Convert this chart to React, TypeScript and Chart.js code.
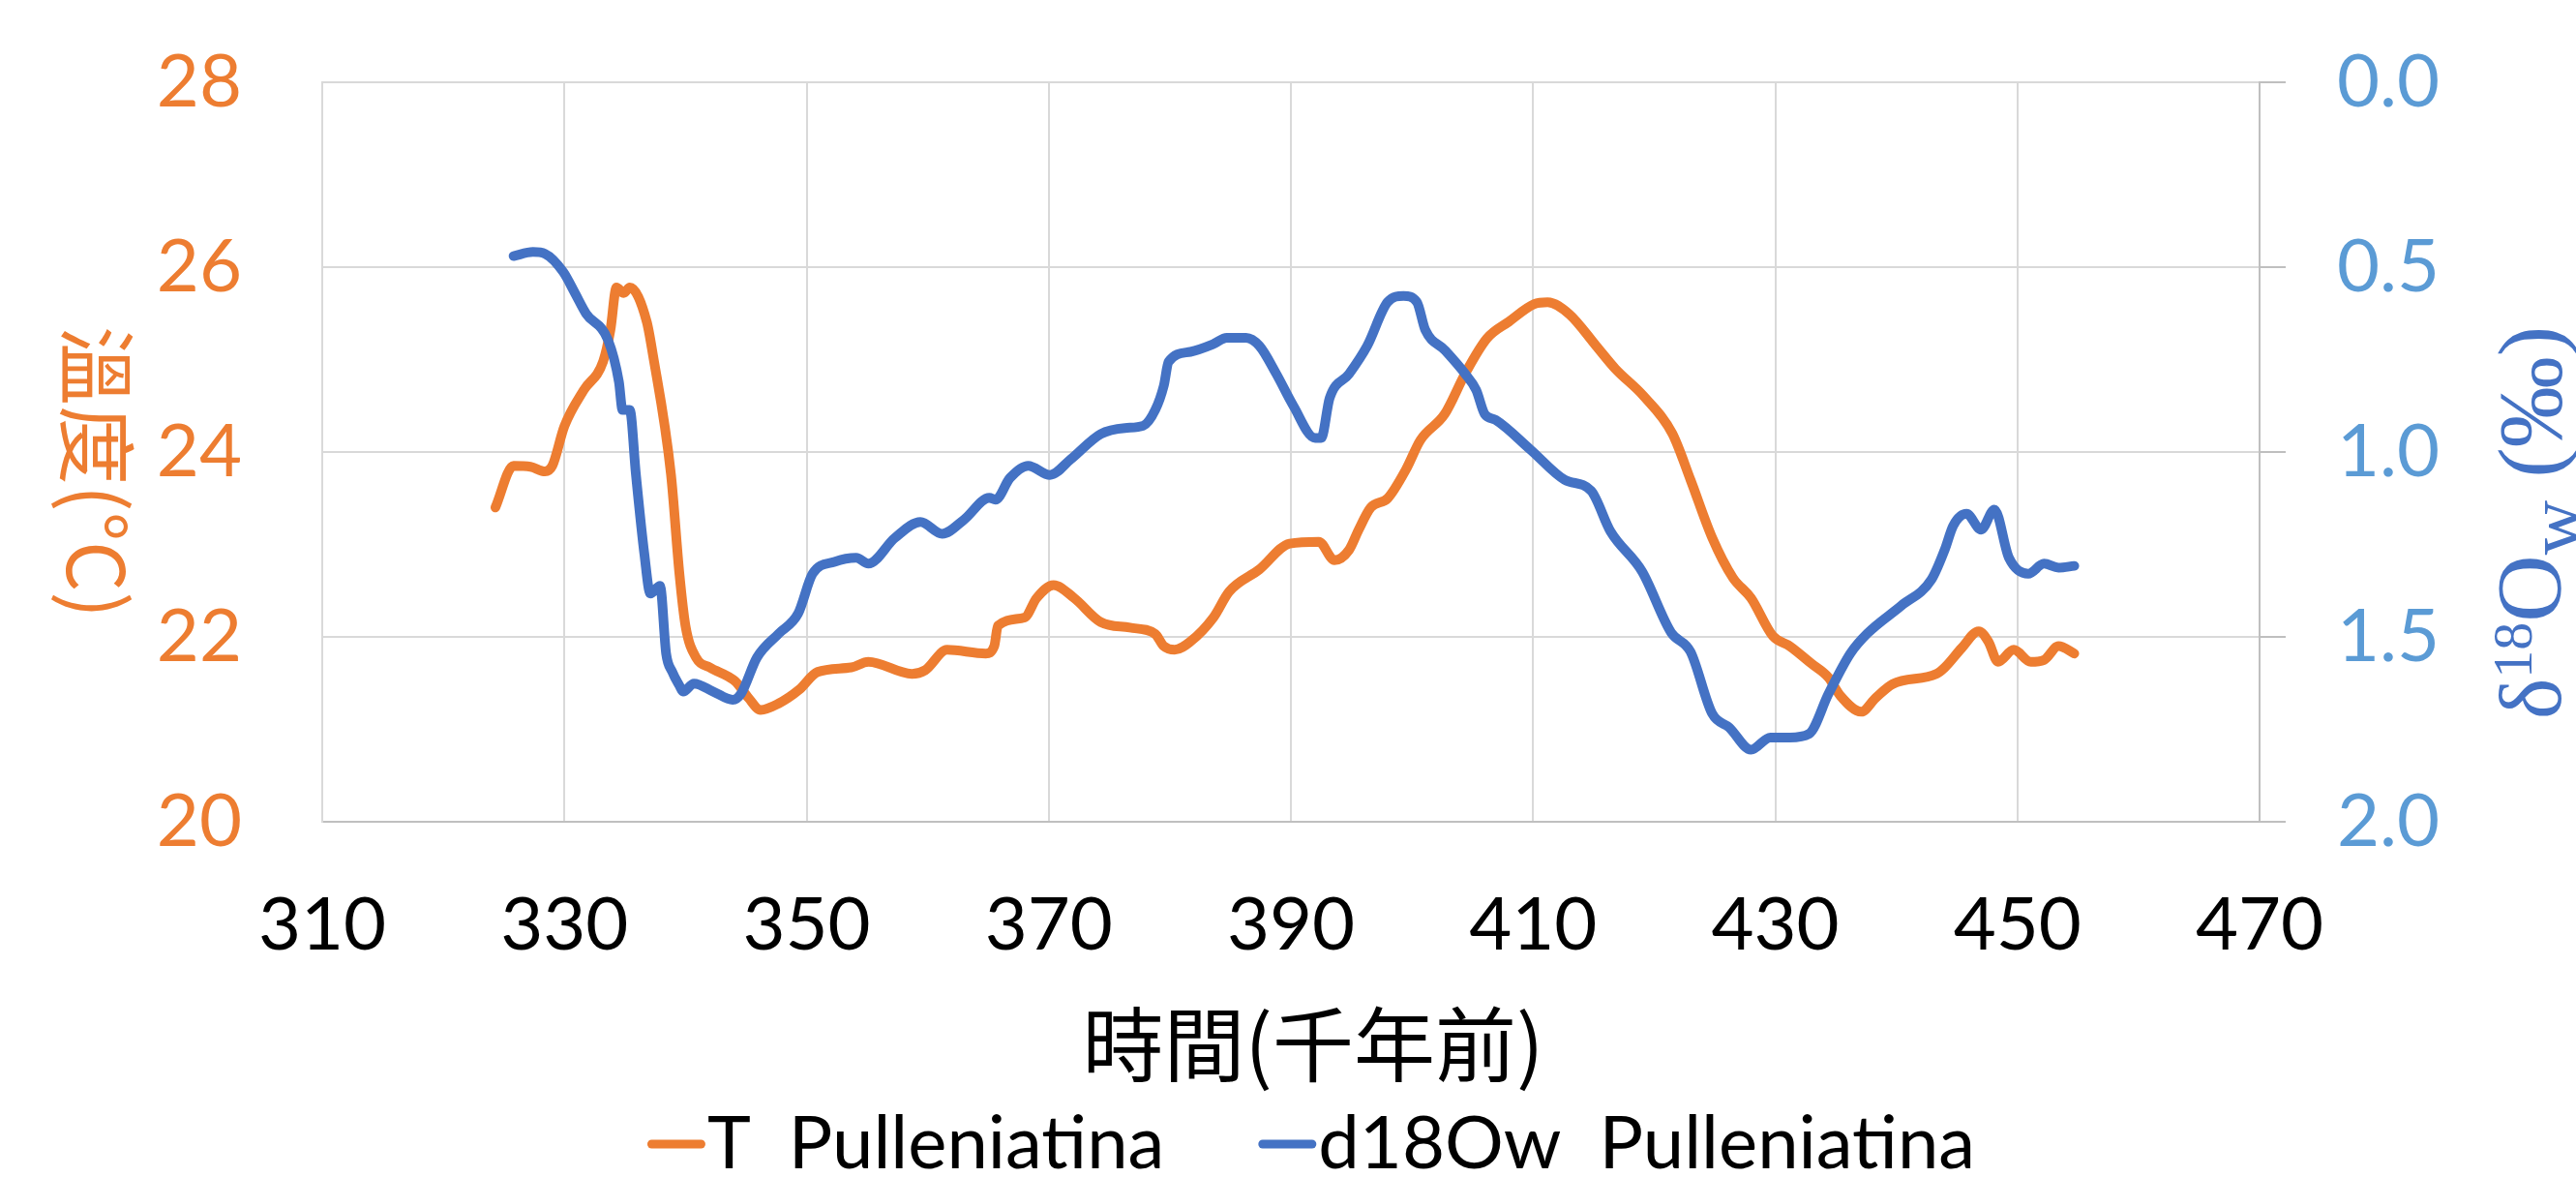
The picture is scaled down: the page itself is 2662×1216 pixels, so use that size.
import React, { useEffect, useRef } from "react";
import { Chart, registerables } from "chart.js";

Chart.register(...registerables);

// ---------------- data ----------------
const xTickValues = [310, 330, 350, 370, 390, 410, 430, 450, 470];
const tempTickValues = [20, 22, 24, 26, 28];
const d18TickValues = [0.0, 0.5, 1.0, 1.5, 2.0];

const seriesLabels = ["T  Pulleniatina", "d18Ow  Pulleniatina"];

const tTime = [
  324.3, 325.8, 327.2, 328.4, 329.0, 330.0, 331.6, 333.2, 333.8, 334.3,
  334.9, 335.4, 336.8, 337.3, 338.8, 339.5, 340.0, 340.9, 342.0, 344.1,
  345.2, 346.2, 347.7, 349.4, 350.9, 353.7, 355.1, 358.7, 359.8, 361.6,
  364.8, 365.5, 365.8, 368.0, 369.0, 370.4, 372.1, 374.3, 376.7, 378.8,
  379.5, 380.4, 381.7, 383.6, 384.9, 387.4, 389.9, 392.3, 393.6, 394.8,
  395.6, 396.6, 398.0, 399.5, 400.7, 402.7, 404.4, 406.2, 408.0, 410.1,
  411.2, 413.0, 415.2, 416.8, 419.1, 421.5, 423.0, 424.8, 426.5, 428.0,
  429.8, 431.2, 433.0, 434.4, 435.4, 437.1, 438.3, 439.7, 443.3, 444.0,
  445.4, 446.8, 447.6, 448.4, 449.7, 451.1, 452.2, 453.4, 454.7,
];
const tValue = [
  23.40, 23.85, 23.84, 23.79, 23.85, 24.28, 24.67, 24.98, 25.32, 25.78,
  25.72, 25.78, 25.41, 25.06, 23.76, 22.68, 22.12, 21.77, 21.67, 21.52,
  21.34, 21.21, 21.28, 21.43, 21.62, 21.67, 21.73, 21.60, 21.64, 21.86,
  21.82, 21.90, 22.12, 22.21, 22.42, 22.56, 22.42, 22.16, 22.10, 22.03,
  21.90, 21.86, 21.95, 22.21, 22.49, 22.73, 23.01, 23.03, 22.83, 22.94,
  23.16, 23.40, 23.50, 23.81, 24.13, 24.41, 24.85, 25.23, 25.41, 25.60,
  25.62, 25.49, 25.15, 24.90, 24.61, 24.20, 23.70, 23.07, 22.64, 22.42,
  22.01, 21.90, 21.71, 21.56, 21.36, 21.19, 21.34, 21.49, 21.60, 21.67,
  21.88, 22.06, 21.95, 21.73, 21.86, 21.73, 21.75, 21.90, 21.82,
];

const dTime = [
  325.8, 327.4, 328.4, 329.9, 330.9, 331.8, 333.6, 334.5, 334.8, 335.4,
  335.9, 336.6, 337.1, 337.9, 338.4, 338.9, 339.5, 339.8, 340.7, 342.3,
  343.9, 344.6, 345.9, 347.7, 349.3, 350.5, 352.3, 354.1, 355.1, 357.3,
  359.4, 361.2, 363.0, 365.1, 365.6, 366.8, 368.3, 370.1, 371.8, 374.3,
  376.3, 377.8, 378.8, 379.5, 379.9, 381.7, 383.6, 384.7, 386.3, 387.4,
  388.8, 390.2, 392.0, 392.5, 393.2, 394.8, 396.3, 398.0, 399.3, 400.4,
  401.1, 402.7, 404.4, 405.3, 406.0, 406.9, 409.8, 412.6, 414.8, 416.4,
  419.0, 421.4, 423.0, 424.8, 426.2, 428.0, 429.6, 431.2, 432.8, 434.4,
  436.2, 437.6, 440.4, 442.9, 444.0, 444.7, 445.8, 447.0, 448.1, 449.3,
  450.9, 452.2, 453.4, 454.7,
];
const dValue = [
  0.470, 0.459, 0.464, 0.513, 0.572, 0.626, 0.697, 0.810, 0.886, 0.886,
  1.059, 1.275, 1.383, 1.362, 1.545, 1.594, 1.632, 1.648, 1.626, 1.648,
  1.670, 1.653, 1.556, 1.491, 1.437, 1.329, 1.297, 1.286, 1.302, 1.232,
  1.189, 1.221, 1.183, 1.124, 1.129, 1.070, 1.037, 1.062, 1.020, 0.951,
  0.935, 0.929, 0.886, 0.821, 0.756, 0.729, 0.708, 0.691, 0.691, 0.713,
  0.789, 0.875, 0.962, 0.962, 0.854, 0.789, 0.713, 0.594, 0.578, 0.594,
  0.670, 0.724, 0.789, 0.832, 0.897, 0.913, 0.994, 1.075, 1.105, 1.215,
  1.323, 1.488, 1.540, 1.708, 1.745, 1.805, 1.772, 1.772, 1.762, 1.654,
  1.545, 1.491, 1.416, 1.345, 1.264, 1.199, 1.167, 1.210, 1.156, 1.286,
  1.329, 1.302, 1.313, 1.308,
];

// ---------------- style ----------------
const W = 2662;
const H = 1216;
const ORANGE = "#ED7D31";
const BLUE = "#4472C4";
const LIGHT_BLUE = "#5B9BD5";
const GRID = "#d9d9d9";
const AXIS = "#bfbfbf";
const TICK_FONT = { family: "Lato", size: 76 };

const titlePlugin = {
  id: "titlesAndLegend",
  afterDraw(chart: any) {
    const ctx = chart.ctx as CanvasRenderingContext2D;

    // x axis title
    ctx.save();
    ctx.fillStyle = "#000";
    ctx.font = '84px "Noto Sans CJK TC"';
    ctx.textAlign = "center";
    ctx.textBaseline = "middle";
    ctx.fillText("時間(千年前)", 1357, 1079);
    ctx.restore();

    // left axis title (reads top to bottom)
    ctx.save();
    ctx.translate(100, 488);
    ctx.rotate(Math.PI / 2);
    ctx.fillStyle = ORANGE;
    ctx.font = '82px "Noto Sans CJK TC"';
    ctx.textAlign = "center";
    ctx.textBaseline = "middle";
    ctx.fillText("溫度(°C)", 0, 0);
    ctx.restore();

    // right axis title (reads bottom to top), rich text
    ctx.save();
    ctx.fillStyle = BLUE;
    ctx.textAlign = "left";
    ctx.textBaseline = "alphabetic";
    const parts: [string, number, number][] = [
      ["δ", 90, 0],
      ["18", 58, -30],
      ["O", 96, 0],
      ["w", 78, 20],
      [" (‰)", 94, 0],
    ];
    let totalLen = 0;
    const widths: number[] = [];
    for (const [txt, size] of parts) {
      ctx.font = `${size}px "Liberation Serif"`;
      const w = ctx.measureText(txt).width;
      widths.push(w);
      totalLen += w;
    }
    ctx.translate(2646, 540 + totalLen / 2);
    ctx.rotate(-Math.PI / 2);
    let px = 0;
    parts.forEach(([txt, size, dy], i) => {
      ctx.font = `${size}px "Liberation Serif"`;
      ctx.fillText(txt, px, dy);
      px += widths[i];
    });
    ctx.restore();

    // legend
    ctx.save();
    ctx.font = "76px Lato";
    const sampleW = 60;
    const sampleGap = 2;
    const itemGap = 97;
    const items = chart.data.datasets
      .slice()
      .sort((a: any, b: any) => a.legendIndex - b.legendIndex)
      .map((ds: any) => ({ label: ds.label, color: ds.borderColor, w: ctx.measureText(ds.label).width }));
    let total = 0;
    items.forEach((it: any, i: number) => {
      total += sampleW + sampleGap + it.w + (i > 0 ? itemGap : 0);
    });
    let x = 1355 - total / 2;
    const baseY = 1207;
    items.forEach((it: any, i: number) => {
      if (i > 0) x += itemGap;
      ctx.strokeStyle = it.color;
      ctx.lineWidth = 9;
      ctx.lineCap = "round";
      ctx.beginPath();
      ctx.moveTo(x + 4.5, 1182);
      ctx.lineTo(x + sampleW - 4.5, 1182);
      ctx.stroke();
      x += sampleW + sampleGap;
      ctx.fillStyle = "#000";
      ctx.textAlign = "left";
      ctx.textBaseline = "alphabetic";
      ctx.fillText(it.label, x, baseY);
      x += it.w;
    });
    ctx.restore();
  },
};

const zeroVerticalPadding = (s: any) => {
  s.paddingTop = 0;
  s.paddingBottom = 0;
};

export default function App() {
  const ref = useRef<HTMLCanvasElement>(null);

  useEffect(() => {
    const canvas = ref.current;
    if (!canvas) return;
    const chart = new Chart(canvas, {
      type: "line",
      data: {
        datasets: [
          {
            label: seriesLabels[0],
            legendIndex: 0,
            data: tTime.map((t, i) => ({ x: t, y: tValue[i] })),
            borderColor: ORANGE,
            backgroundColor: ORANGE,
            borderWidth: 10,
            pointRadius: 0,
            cubicInterpolationMode: "monotone",
            borderCapStyle: "round",
            borderJoinStyle: "round",
            yAxisID: "y",
            order: 1,
          } as any,
          {
            label: seriesLabels[1],
            legendIndex: 1,
            data: dTime.map((t, i) => ({ x: t, y: dValue[i] })),
            borderColor: BLUE,
            backgroundColor: BLUE,
            borderWidth: 10,
            pointRadius: 0,
            cubicInterpolationMode: "monotone",
            borderCapStyle: "round",
            borderJoinStyle: "round",
            yAxisID: "y1",
            order: 0,
          } as any,
        ],
      },
      options: {
        animation: false,
        responsive: false,
        devicePixelRatio: 1,
        layout: { padding: { top: 85, left: 0, right: 0, bottom: 0 } },
        plugins: {
          legend: { display: false },
          tooltip: { enabled: false },
        },
        scales: {
          x: {
            type: "linear",
            position: "bottom",
            min: xTickValues[0],
            max: xTickValues[xTickValues.length - 1],
            afterBuildTicks: (s: any) => {
              s.ticks = xTickValues.map((v) => ({ value: v }));
            },
            ticks: {
              color: "#000",
              font: TICK_FONT,
              padding: 62,
              maxRotation: 0,
              autoSkip: false,
            },
            grid: { color: GRID, lineWidth: 2, drawTicks: false },
            border: { color: AXIS, width: 2 },
            afterFit: (s: any) => {
              s.height = H - 849;
              s.paddingLeft = 0;
              s.paddingRight = 0;
            },
          },
          y: {
            type: "linear",
            position: "left",
            min: tempTickValues[0],
            max: tempTickValues[tempTickValues.length - 1],
            afterBuildTicks: (s: any) => {
              s.ticks = tempTickValues.map((v) => ({ value: v }));
            },
            ticks: { color: ORANGE, font: TICK_FONT, padding: 83 },
            grid: { color: GRID, lineWidth: 2, drawTicks: false },
            border: { color: GRID, width: 2 },
            afterFit: (s: any) => {
              s.width = 333;
              zeroVerticalPadding(s);
            },
          },
          y1: {
            type: "linear",
            position: "right",
            reverse: true,
            min: d18TickValues[0],
            max: d18TickValues[d18TickValues.length - 1],
            afterBuildTicks: (s: any) => {
              s.ticks = d18TickValues.map((v) => ({ value: v }));
            },
            ticks: {
              color: LIGHT_BLUE,
              font: TICK_FONT,
              padding: 53,
              callback: (v: any) => Number(v).toFixed(1),
            },
            grid: { drawOnChartArea: false, color: AXIS, lineWidth: 2, tickLength: 27, drawTicks: true },
            border: { color: AXIS, width: 2 },
            afterFit: (s: any) => {
              s.width = W - 2335;
              zeroVerticalPadding(s);
            },
          },
        },
      } as any,
      plugins: [titlePlugin],
    });
    return () => chart.destroy();
  }, []);

  return (
    <div style={{ position: "fixed", left: 0, top: 0, width: W, height: H, background: "#fff" }}>
      <canvas ref={ref} width={W} height={H} style={{ display: "block", width: W, height: H }} />
    </div>
  );
}
